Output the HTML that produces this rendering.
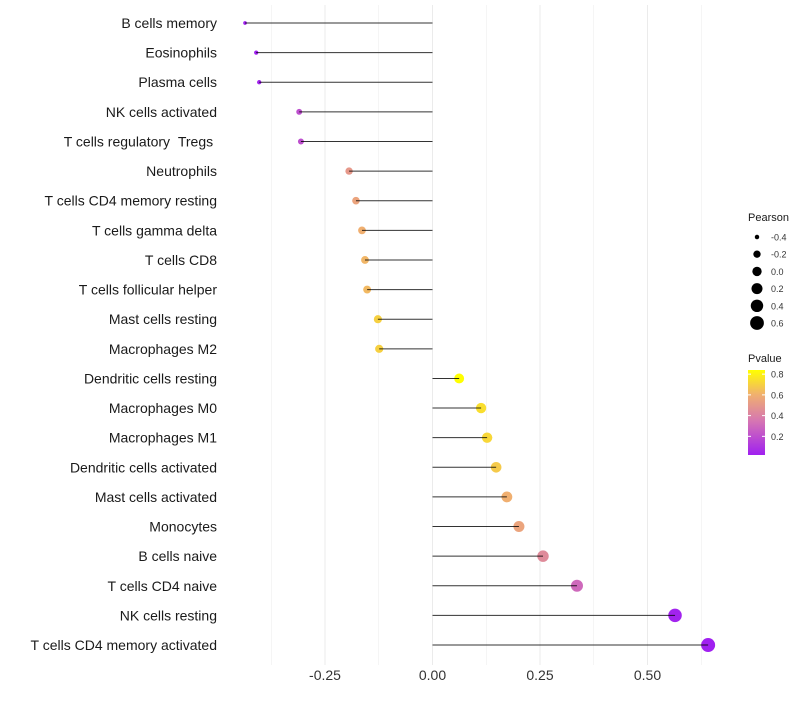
<!DOCTYPE html>
<html><head><meta charset="utf-8"><style>
body{margin:0;background:#fff;font-family:"Liberation Sans",sans-serif}
</style></head><body>
<svg id="chart" width="800" height="700" xmlns="http://www.w3.org/2000/svg"></svg>
<script>
const categories=["B cells memory","Eosinophils","Plasma cells","NK cells activated","T cells regulatory\u00a0\u00a0Tregs\u00a0","Neutrophils","T cells CD4 memory resting","T cells gamma delta","T cells CD8","T cells follicular helper","Mast cells resting","Macrophages M2","Dendritic cells resting","Macrophages M0","Macrophages M1","Dendritic cells activated","Mast cells activated","Monocytes","B cells naive","T cells CD4 naive","NK cells resting","T cells CD4 memory activated"];
const pearson=[-0.436,-0.41,-0.403,-0.31,-0.306,-0.194,-0.178,-0.164,-0.157,-0.152,-0.127,-0.124,0.062,0.113,0.127,0.148,0.173,0.201,0.257,0.336,0.564,0.641];
const pvalue=[0.01,0.02,0.03,0.2,0.2,0.5,0.55,0.6,0.62,0.63,0.7,0.7,0.84,0.74,0.72,0.68,0.6,0.55,0.44,0.3,0.03,0.01];
const xTicks=[-0.25,0,0.25,0.5];
const xTickLabels=["-0.25","0.00","0.25","0.50"];
const sizeLegend=[-0.4,-0.2,0,0.2,0.4,0.6];
const colorLegend=[0.8,0.6,0.4,0.2];

const svg=document.getElementById('chart');
const NS="http://www.w3.org/2000/svg";
function el(t,a,p){const e=document.createElementNS(NS,t);for(const k in a)e.setAttribute(k,a[k]);(p||svg).appendChild(e);return e;}
const x=v=>432.5+v*430;
const y=i=>23+i*29.62;
const r=v=>Math.sqrt(Math.max(1,3.2+42.4*(v+0.44)));
const stops=[[0.02,[160,32,240]],[0.35,[214,118,178]],[0.6,[240,175,112]],[0.84,[255,255,0]]];
function col(p){if(p<=stops[0][0])return`rgb(${stops[0][1]})`;for(let i=1;i<stops.length;i++){if(p<=stops[i][0]){const t=(p-stops[i-1][0])/(stops[i][0]-stops[i-1][0]);const c=stops[i-1][1].map((a,j)=>Math.round(a+(stops[i][1][j]-a)*t));return`rgb(${c})`;}}return`rgb(${stops[3][1]})`;}

for(let v=-0.375;v<=0.625;v+=0.125){
  const g=el('line',{x1:x(v),x2:x(v),y1:5,y2:665,stroke:'#ebebeb','stroke-width':xTicks.some(t=>Math.abs(t-v)<1e-9)?1:0.5});
  
  
}
xTicks.forEach((t,i)=>{
  const tx=el('text',{x:x(t),y:680,'text-anchor':'middle','font-size':14,fill:'#333'});
  tx.textContent=xTickLabels[i];
  
  
});
categories.forEach((c,i)=>{
  const yy=y(i);
  const tl=el('text',{x:217,y:yy+5,'text-anchor':'end','font-size':14,fill:'#1a1a1a'});
  tl.textContent=c;
  
  
  const pt=el('circle',{cx:x(pearson[i]),cy:yy,r:r(pearson[i]),fill:col(pvalue[i])});
  
  
  const ln=el('line',{x1:x(0),x2:x(pearson[i]),y1:yy,y2:yy,stroke:'#000','stroke-width':1,'stroke-opacity':0.8});
  
  
});
const st=el('text',{x:748,y:221,'font-size':11,fill:'#1a1a1a'});st.textContent='Pearson';


sizeLegend.forEach((v,i)=>{
  const cy=237+i*17.2;
  const c=el('circle',{cx:757,cy:cy,r:r(v),fill:'#000'});
  
  
  const t=el('text',{x:771,y:cy+3.5,'font-size':9,fill:'#333'});t.textContent=v.toFixed(1);
  
  
});
const ct=el('text',{x:748,y:362,'font-size':11,fill:'#1a1a1a'});ct.textContent='Pvalue';


const defs=el('defs',{});
const lg=el('linearGradient',{id:'pg',x1:0,y1:1,x2:0,y2:0},defs);
stops.forEach(s=>el('stop',{offset:((s[0]-0.02)/0.82),'stop-color':`rgb(${s[1]})`},lg));
const cb=el('rect',{x:748,y:370,width:17,height:85,fill:'url(#pg)'});


const cy=p=>455-(p-0.02)/0.82*85;
colorLegend.forEach(p=>{
  el('line',{x1:748,x2:751,y1:cy(p),y2:cy(p),stroke:'#fff'});
  el('line',{x1:762,x2:765,y1:cy(p),y2:cy(p),stroke:'#fff'});
  const t=el('text',{x:771,y:cy(p)+3.5,'font-size':9,fill:'#333'});t.textContent=p.toFixed(1);
  
  
});
</script>
</body></html>
